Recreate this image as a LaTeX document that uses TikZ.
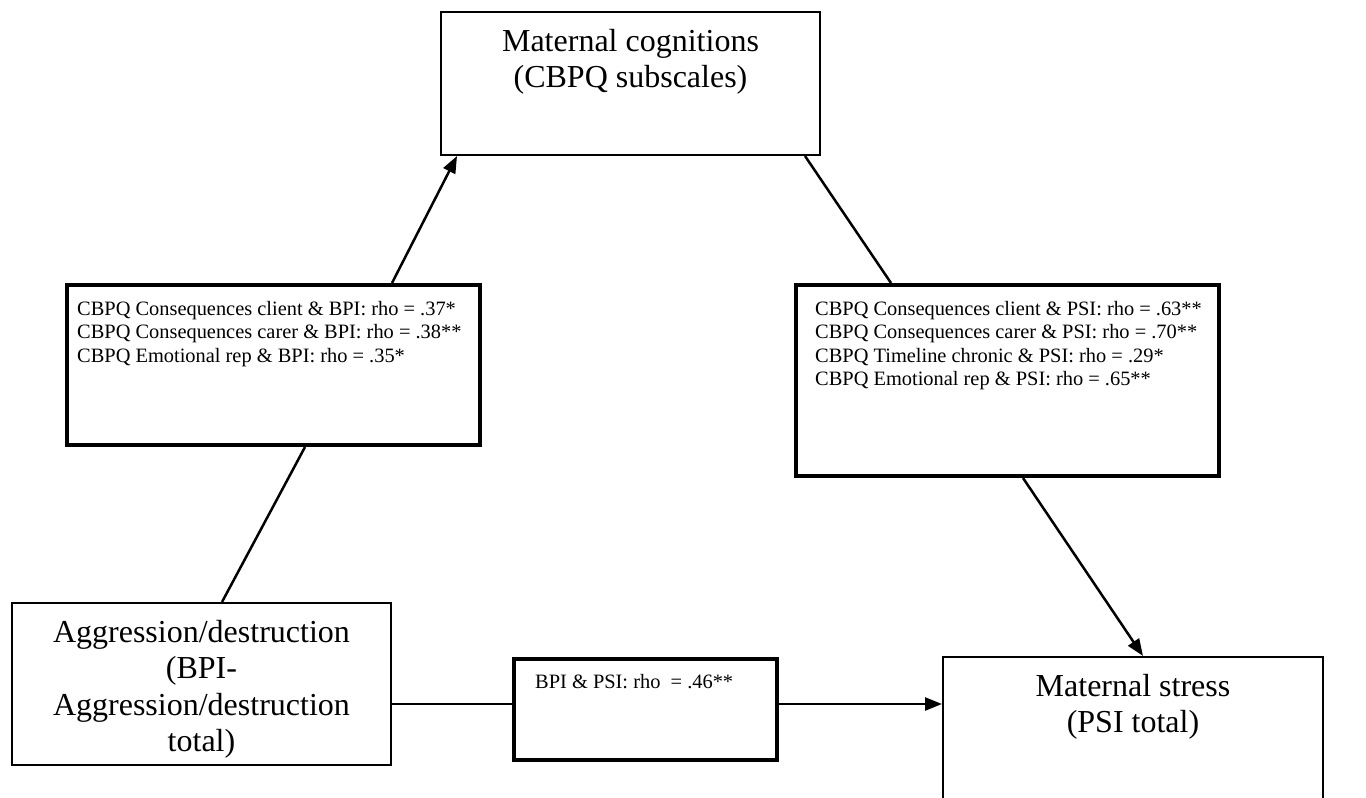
\documentclass[tikz,border=0pt]{standalone}
\usepackage{fontspec}
\setmainfont{Liberation Serif}
\usepackage{tikz}
\usetikzlibrary{calc}
\usetikzlibrary{arrows.meta}
\tikzset{
 big/.style={font=\fontsize{32}{36.5}\selectfont, align=center, inner sep=0},
 small/.style={font=\fontsize{20.4}{23.5}\selectfont, align=left, inner sep=0},
 thinbox/.style={draw, line width=2pt, anchor=north west, inner sep=0},
 thickbox/.style={draw, line width=4pt, anchor=north west, inner sep=0},
 conn/.style={line width=2.5pt},
}

\begin{document}
\begin{tikzpicture}[x=1pt, y=-1pt, >={Triangle[length=17pt,width=13pt]}]
\clip (0,0) rectangle (1366,798);
\fill[white] (0,0) rectangle (1366,798);
\node[thinbox, minimum width=379pt, minimum height=143pt,
 label={[big, anchor=north, yshift=-18pt]north:{Maternal cognitions\\(CBPQ subscales)}}] (cog) at (440,11) {};
\node[thickbox, minimum width=413pt, minimum height=160pt,
 label={[small, anchor=north west, xshift=12pt, yshift=-18pt]north west:{CBPQ Consequences client \& BPI: rho = .37*\\CBPQ Consequences carer \& BPI: rho = .38**\\CBPQ Emotional rep \& BPI: rho = .35*}}] (lbox) at (65,283) {};
\node[thickbox, minimum width=423pt, minimum height=191pt,
 label={[small, anchor=north west, xshift=21pt, yshift=-18pt]north west:{CBPQ Consequences client \& PSI: rho = .63**\\CBPQ Consequences carer \& PSI: rho = .70**\\CBPQ Timeline chronic \& PSI: rho = .29*\\CBPQ Emotional rep \& PSI: rho = .65**}}] (rbox) at (794,283) {};
\node[thinbox, minimum width=379pt, minimum height=162pt,
 label={[big, anchor=north, yshift=-18pt]north:{Aggression/destruction\\(BPI-\\Aggression/destruction\\total)}}] (agg) at (11,602) {};
\node[thickbox, minimum width=263pt, minimum height=101pt,
 label={[small, anchor=north west, xshift=23pt, yshift=-17pt]north west:{BPI \& PSI: rho~ = .46**}}] (bpi) at (512,657) {};
\node[thinbox, minimum width=380pt, minimum height=200pt,
 label={[big, anchor=north, yshift=-18pt]north:{Maternal stress\\(PSI total)}}] (stress) at (942,656) {};
\draw[conn, ->] ([xshift=118.5pt]lbox.north) -- ([xshift=-173.5pt]cog.south);
\draw[conn] ([xshift=174.5pt]cog.south) -- ([xshift=-116.5pt]rbox.north);
\draw[conn] ([xshift=31.5pt]lbox.south) -- ([xshift=20.5pt]agg.north);
\draw[conn, ->] ([xshift=15.5pt]rbox.south) -- ([xshift=10pt]stress.north);
\draw[conn] ([yshift=-20pt]agg.east) -- ([yshift=-20pt]agg.east -| bpi.west);
\draw[conn, ->] ([yshift=-20pt]agg.east -| bpi.east) -- ([yshift=-20pt]agg.east -| stress.west);
\end{tikzpicture}
\end{document}
